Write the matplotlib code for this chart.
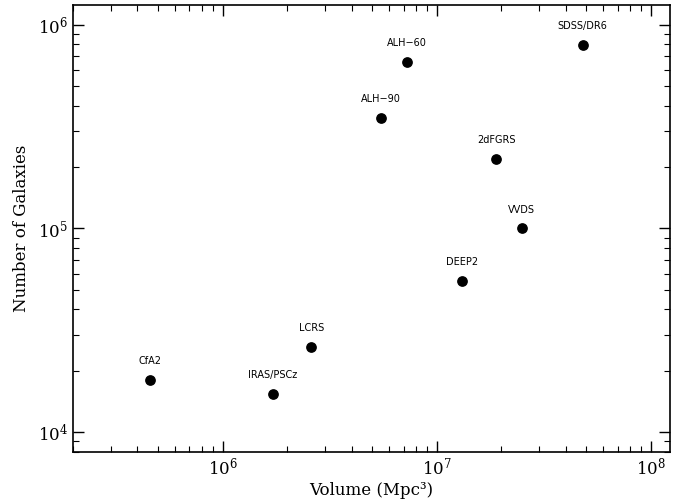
import numpy as np
import matplotlib
matplotlib.use("Agg")
import matplotlib.pyplot as plt
from matplotlib.ticker import LogLocator, NullFormatter

# survey volumes (Mpc^3) and galaxy counts
surveys = ["CfA2", "IRAS/PSCz", "LCRS", "ALH\u221290", "ALH\u221260",
           "2dFGRS", "VVDS", "DEEP2", "SDSS/DR6"]
volume = [4.6e5, 1.71e6, 2.6e6, 5.47e6, 7.25e6, 1.9e7, 2.5e7, 1.31e7, 4.8e7]
ngal = [1.8e4, 1.54e4, 2.62e4, 3.5e5, 6.58e5, 2.2e5, 1.0e5, 5.5e4, 7.98e5]

plt.rcParams['font.family'] = ['DejaVu Serif']
plt.rcParams['mathtext.fontset'] = 'dejavuserif'

fig = plt.figure(figsize=(6.83, 5.03), dpi=100)
ax = fig.add_axes([0.1069, 0.1014, 0.8741, 0.8886])

ax.scatter(volume, ngal, s=45, color='black', zorder=3)
for name, x, y in zip(surveys, volume, ngal):
    ax.annotate(name, (x, y), xytext=(0, 10), textcoords='offset points',
                ha='center', va='bottom', fontsize=7, family='DejaVu Sans')

ax.set_xscale('log')
ax.set_yscale('log')
ax.set_xlim(2.0e5, 1.23e8)
ax.set_ylim(7.98e3, 1.25e6)

for a in (ax.xaxis, ax.yaxis):
    a.set_major_locator(LogLocator(base=10, numticks=10))
    a.set_minor_locator(LogLocator(base=10, subs=np.arange(2, 10), numticks=10))
    a.set_minor_formatter(NullFormatter())

ax.tick_params(which='both', direction='in', top=True, right=True, labelsize=12)
ax.tick_params(which='major', length=8, width=1)
ax.tick_params(which='minor', length=4, width=0.8)
ax.tick_params(axis='x', pad=3)
for sp in ax.spines.values():
    sp.set_linewidth(1.2)

ax.set_xlabel('Volume (Mpc\u00b3)', fontsize=12, labelpad=3)
ax.set_ylabel('Number of Galaxies', fontsize=12, labelpad=6)

fig.savefig('out.png', dpi=100)
